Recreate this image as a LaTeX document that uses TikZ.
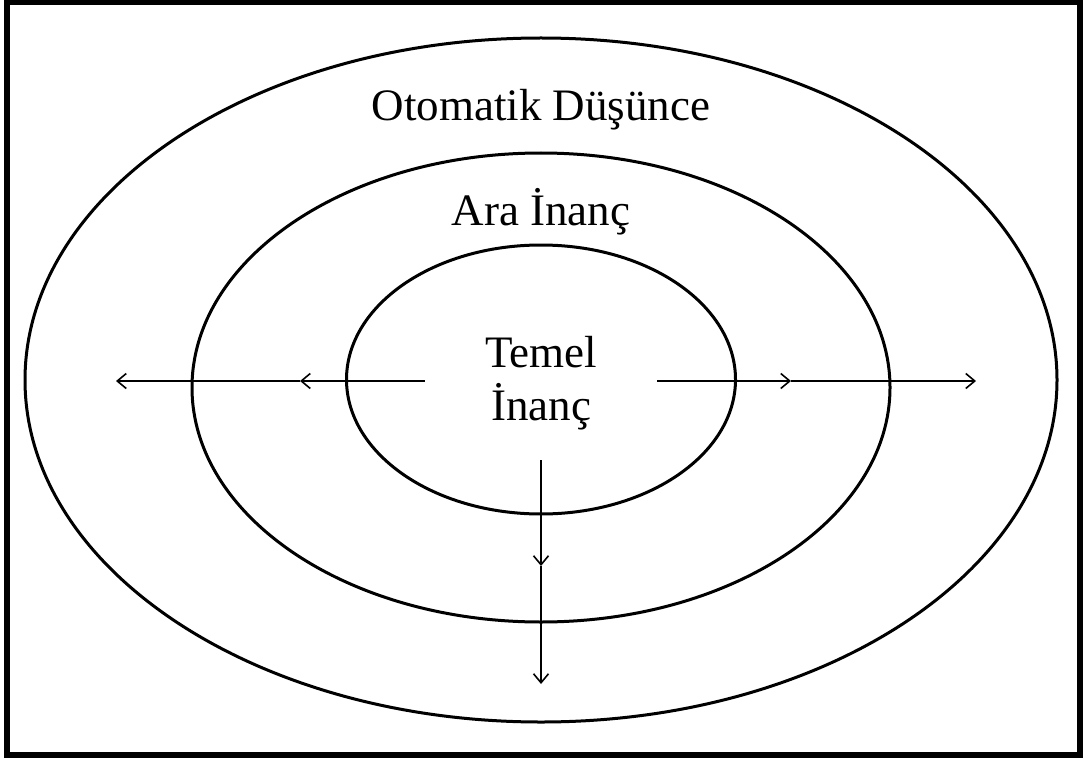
\documentclass[tikz,border=0pt]{standalone}
\usepackage{fontspec}
\setmainfont{Liberation Serif}
\usepackage{tikz}
\usetikzlibrary{arrows.meta,positioning,shapes.geometric}
\tikzset{
  ring/.style={ellipse, draw=black, line width=3pt, inner sep=0pt},
  label/.style={font=\fontsize{45}{50}\selectfont, align=center, inner sep=0pt},
  arrow/.style={-{Straight Barb[length=9pt,width=15pt,line width=1.6pt]}, line width=1.6pt, draw=black}
}

\begin{document}
\begin{tikzpicture}[x=1pt, y=-1pt]
\useasboundingbox (0,0) rectangle (1086,762);
\draw[line width=6pt] (6.5,2.5) rectangle (1079.5,755);

\node[ring, minimum width=1032pt, minimum height=684pt] (outer) at (541,380) {};
\node[ring, minimum width=698pt, minimum height=469pt] (middle) at (541,387.5) {};
\node[ring, minimum width=389pt, minimum height=269pt] (inner) at (541,379.5) {};

\node[label] (oto) at (541,110) {Otomatik Düşünce};
\node[label] (ara) at (541,212) {Ara İnanç};
\node[label, minimum width=232pt, minimum height=154pt] (temel) at (541,383) {Temel\\[3pt]İnanç};

\coordinate (l1) at (300,381);
\coordinate (l2) at (116,381);
\coordinate (r1) at (791,381);
\coordinate (r2) at (976,381);
\coordinate (d1) at (541,566);
\coordinate (d2) at (541,684);

\draw[arrow] (temel.west |- l1) -- (l1);
\draw[arrow] (l1) -- (l2);
\draw[arrow] (temel.east |- r1) -- (r1);
\draw[arrow] (r1) -- (r2);
\draw[arrow] (temel.south) -- (d1);
\draw[arrow] (d1) -- (d2);
\end{tikzpicture}
\end{document}
